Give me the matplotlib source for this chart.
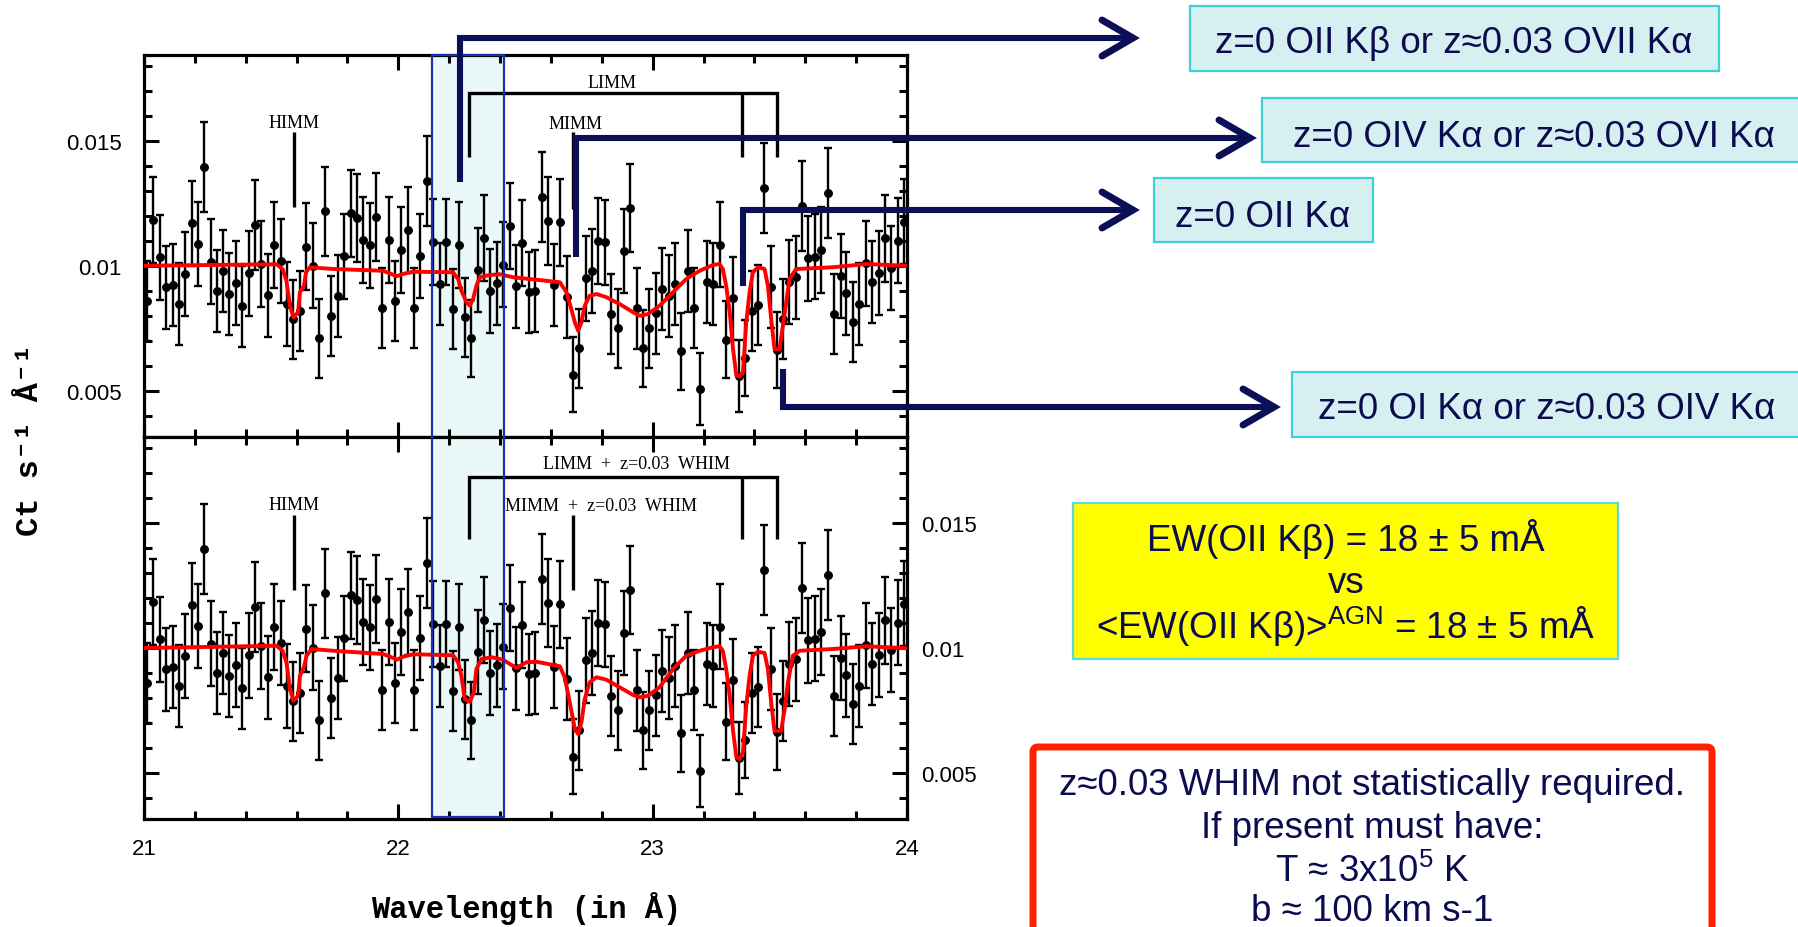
import matplotlib
matplotlib.use("Agg")
import matplotlib.pyplot as plt
from matplotlib.patches import Rectangle, FancyBboxPatch
from matplotlib.ticker import MultipleLocator, FuncFormatter

plt.rcParams["font.family"] = ["Liberation Sans", "DejaVu Sans"]
plt.rcParams["mathtext.fontset"] = "custom"
plt.rcParams["mathtext.rm"] = "Liberation Sans"

# ---------------- spectrum (same data in both panels) ----------------
wavelength = [
    21.010, 21.037, 21.063, 21.086, 21.113, 21.138, 21.162, 21.187, 21.212, 21.237,
    21.262, 21.287, 21.312, 21.335, 21.362, 21.386, 21.411, 21.436, 21.461, 21.486,
    21.512, 21.537, 21.561, 21.587, 21.613, 21.637, 21.663, 21.688, 21.713, 21.737,
    21.761, 21.787, 21.812, 21.837, 21.862, 21.887, 21.911, 21.936, 21.962, 21.987,
    22.012, 22.037, 22.062, 22.087, 22.112, 22.137, 22.162, 22.187, 22.213, 22.238,
    22.263, 22.287, 22.312, 22.337, 22.362, 22.387, 22.412, 22.438, 22.462, 22.488,
    22.513, 22.538, 22.563, 22.587, 22.612, 22.637, 22.662, 22.687, 22.712, 22.737,
    22.762, 22.787, 22.813, 22.838, 22.863, 22.888, 22.912, 22.937, 22.962, 22.987,
    23.012, 23.038, 23.063, 23.088, 23.113, 23.138, 23.162, 23.187, 23.212, 23.237,
    23.263, 23.289, 23.316, 23.339, 23.365, 23.390, 23.415, 23.437, 23.464, 23.487,
    23.512, 23.538, 23.563, 23.588, 23.612, 23.638, 23.663, 23.688, 23.713, 23.739,
    23.762, 23.787, 23.812, 23.837, 23.862, 23.888, 23.913, 23.938, 23.963, 23.988,
]
counts = [
    0.00861, 0.01184, 0.01035, 0.00915, 0.00925, 0.00848, 0.00968, 0.01171, 0.01088, 0.01396,
    0.01017, 0.00899, 0.00981, 0.00888, 0.00932, 0.00839, 0.00971, 0.01164, 0.01008, 0.00884,
    0.01084, 0.01021, 0.00848, 0.00788, 0.00821, 0.01077, 0.01001, 0.00711, 0.01219, 0.00800,
    0.00880, 0.01039, 0.01211, 0.01192, 0.01105, 0.01084, 0.01197, 0.00832, 0.01104, 0.00861,
    0.01065, 0.01145, 0.00832, 0.01041, 0.01341, 0.01097, 0.00928, 0.01095, 0.00828, 0.01084,
    0.00795, 0.00711, 0.00985, 0.01112, 0.00901, 0.00932, 0.01005, 0.01161, 0.00919, 0.01093,
    0.00895, 0.00901, 0.01277, 0.01181, 0.00925, 0.01175, 0.00877, 0.00565, 0.00671, 0.00951,
    0.00981, 0.01101, 0.01095, 0.00808, 0.00751, 0.01061, 0.01232, 0.00831, 0.00671, 0.00751,
    0.00811, 0.00908, 0.00881, 0.00928, 0.00659, 0.00981, 0.00832, 0.00508, 0.00937, 0.00927,
    0.01085, 0.00705, 0.00871, 0.00561, 0.00632, 0.00821, 0.00845, 0.01312, 0.00915, 0.00665,
    0.00788, 0.00937, 0.00955, 0.01241, 0.01031, 0.01037, 0.01065, 0.01292, 0.00808, 0.00961,
    0.00891, 0.00775, 0.00848, 0.01012, 0.00937, 0.00972, 0.01111, 0.00992, 0.01101, 0.01177,
]
count_err = [
    0.00160, 0.00173, 0.00170, 0.00167, 0.00165, 0.00165, 0.00167, 0.00169, 0.00169, 0.00181,
    0.00170, 0.00164, 0.00165, 0.00165, 0.00167, 0.00163, 0.00170, 0.00179, 0.00172, 0.00166,
    0.00173, 0.00167, 0.00168, 0.00158, 0.00160, 0.00174, 0.00170, 0.00157, 0.00177, 0.00160,
    0.00163, 0.00170, 0.00174, 0.00175, 0.00172, 0.00170, 0.00175, 0.00161, 0.00171, 0.00161,
    0.00171, 0.00171, 0.00160, 0.00169, 0.00181, 0.00173, 0.00164, 0.00172, 0.00160, 0.00171,
    0.00159, 0.00155, 0.00167, 0.00173, 0.00167, 0.00166, 0.00170, 0.00173, 0.00165, 0.00172,
    0.00163, 0.00164, 0.00180, 0.00176, 0.00165, 0.00175, 0.00163, 0.00150, 0.00157, 0.00170,
    0.00169, 0.00172, 0.00171, 0.00161, 0.00158, 0.00168, 0.00177, 0.00161, 0.00154, 0.00157,
    0.00161, 0.00163, 0.00165, 0.00164, 0.00155, 0.00165, 0.00160, 0.00145, 0.00165, 0.00164,
    0.00170, 0.00154, 0.00165, 0.00145, 0.00153, 0.00160, 0.00161, 0.00179, 0.00164, 0.00151,
    0.00160, 0.00167, 0.00167, 0.00179, 0.00171, 0.00170, 0.00173, 0.00179, 0.00159, 0.00168,
    0.00165, 0.00160, 0.00163, 0.00170, 0.00163, 0.00167, 0.00173, 0.00169, 0.00170, 0.00170,
]

# ---------------- best-fit models ----------------
model_wl_top = [
    21.000, 21.521, 21.545, 21.560, 21.574, 21.587, 21.606, 21.613, 21.629, 21.637,
    21.652, 21.744, 21.940, 21.973, 21.993, 22.019, 22.058, 22.215, 22.235, 22.248,
    22.268, 22.281, 22.294, 22.307, 22.320, 22.360, 22.399, 22.451, 22.635, 22.661,
    22.680, 22.694, 22.707, 22.720, 22.733, 22.752, 22.779, 22.818, 22.870, 22.923,
    22.949, 22.982, 23.027, 23.080, 23.132, 23.185, 23.237, 23.263, 23.276, 23.289,
    23.303, 23.316, 23.329, 23.342, 23.355, 23.368, 23.381, 23.394, 23.414, 23.440,
    23.453, 23.466, 23.479, 23.499, 23.512, 23.525, 23.538, 23.564, 23.708, 23.840,
    23.997,
]
model_top = [
    0.01001, 0.01007, 0.00988, 0.00941, 0.00841, 0.00795, 0.00815, 0.00895, 0.00921, 0.00975,
    0.00995, 0.00988, 0.00981, 0.00968, 0.00959, 0.00968, 0.00977, 0.00975, 0.00948, 0.00901,
    0.00855, 0.00841, 0.00868, 0.00921, 0.00955, 0.00964, 0.00967, 0.00955, 0.00935, 0.00895,
    0.00828, 0.00775, 0.00741, 0.00775, 0.00841, 0.00881, 0.00888, 0.00875, 0.00848, 0.00815,
    0.00801, 0.00808, 0.00841, 0.00895, 0.00948, 0.00981, 0.01004, 0.01008, 0.00988, 0.00921,
    0.00815, 0.00668, 0.00561, 0.00559, 0.00575, 0.00775, 0.00895, 0.00975, 0.00995, 0.00988,
    0.00921, 0.00788, 0.00668, 0.00668, 0.00761, 0.00855, 0.00948, 0.00988, 0.00995, 0.01008,
    0.01001,
]
model_wl_bot = [
    21.000, 21.521, 21.545, 21.560, 21.574, 21.587, 21.606, 21.613, 21.629, 21.639,
    21.659, 21.744, 21.940, 21.973, 21.993, 22.019, 22.058, 22.215, 22.235, 22.248,
    22.261, 22.281, 22.297, 22.307, 22.327, 22.366, 22.412, 22.464, 22.504, 22.543,
    22.635, 22.654, 22.674, 22.694, 22.707, 22.720, 22.733, 22.752, 22.779, 22.818,
    22.870, 22.923, 22.949, 22.982, 23.027, 23.080, 23.132, 23.185, 23.237, 23.263,
    23.276, 23.289, 23.303, 23.316, 23.329, 23.342, 23.355, 23.368, 23.381, 23.394,
    23.414, 23.440, 23.453, 23.466, 23.479, 23.505, 23.519, 23.532, 23.551, 23.578,
    23.708, 23.840, 23.997,
]
model_bot = [
    0.01000, 0.01009, 0.00989, 0.00943, 0.00836, 0.00789, 0.00809, 0.00889, 0.00923, 0.00969,
    0.00996, 0.00989, 0.00976, 0.00963, 0.00953, 0.00965, 0.00975, 0.00971, 0.00943, 0.00889,
    0.00796, 0.00785, 0.00823, 0.00916, 0.00956, 0.00963, 0.00953, 0.00920, 0.00943, 0.00945,
    0.00927, 0.00883, 0.00783, 0.00676, 0.00656, 0.00703, 0.00796, 0.00863, 0.00883, 0.00873,
    0.00843, 0.00812, 0.00803, 0.00809, 0.00843, 0.00916, 0.00969, 0.00989, 0.01003, 0.01007,
    0.00989, 0.00916, 0.00809, 0.00669, 0.00563, 0.00556, 0.00583, 0.00769, 0.00889, 0.00969,
    0.00985, 0.00980, 0.00916, 0.00783, 0.00669, 0.00669, 0.00756, 0.00863, 0.00969, 0.00989,
    0.00996, 0.01007, 0.00999,
]

# line identifications
himm_wl = 21.589
mimm_wl = 22.688
limm_wl = [22.277, 23.351, 23.490]
highlight = (22.133, 22.416)
arrow_wl = [22.242, 22.697, 23.354, 23.511]

# ---------------- figure ----------------
W, H = 1798, 928
fig = plt.figure(figsize=(W / 100, H / 100), dpi=100)


def px_rect(left, top, right, bottom):
    return [left / W, 1 - bottom / H, (right - left) / W, (bottom - top) / H]


ax_top = fig.add_axes(px_rect(144, 56, 907, 438))
ax_bot = fig.add_axes(px_rect(144, 438, 907, 820))

YLIM = (0.00316, 0.01844)
for ax, mwl, mval in ((ax_top, model_wl_top, model_top), (ax_bot, model_wl_bot, model_bot)):
    ax.axvspan(highlight[0], highlight[1], color="#EAF8F8", lw=0, zorder=0)
    ax.errorbar(wavelength, counts, yerr=count_err, fmt="o", color="black",
                ms=5.4, elinewidth=1.7, capsize=2.6, capthick=1.7, zorder=2)
    ax.plot(mwl, mval, color="#FF0000", lw=2.8, zorder=3)
    ax.set_xlim(21, 24)
    ax.set_ylim(*YLIM)
    ax.xaxis.set_major_locator(MultipleLocator(1))
    ax.xaxis.set_minor_locator(MultipleLocator(0.2))
    ax.yaxis.set_major_locator(MultipleLocator(0.005))
    ax.yaxis.set_minor_locator(MultipleLocator(0.001))
    ax.yaxis.set_major_formatter(FuncFormatter(lambda v, _: f"{v:g}"))
    ax.tick_params(which="both", direction="in", top=True, right=True,
                   width=2.2, color="black", labelsize=16)
    ax.tick_params(which="major", length=11)
    ax.tick_params(which="minor", length=5.5)
    for sp in ax.spines.values():
        sp.set_linewidth(2.3)

ax_top.tick_params(labelbottom=False, labelleft=True)
ax_top.tick_params(axis="y", pad=16)
ax_bot.tick_params(axis="y", labelleft=False, labelright=True, pad=10)
ax_bot.tick_params(axis="x", pad=14)

serif = dict(family=["Liberation Serif", "DejaVu Serif"], fontsize=13, color="black")
blk = dict(color="black", lw=2.4, solid_capstyle="butt", clip_on=False, zorder=4)

# top panel identifications
ax_top.plot([himm_wl, himm_wl], [0.01235, 0.01535], **blk)
ax_top.text(himm_wl, 0.01555, "HIMM", ha="center", va="baseline", **serif)
ax_top.plot([mimm_wl, mimm_wl], [0.01228, 0.01536], **blk)
ax_top.text(22.696, 0.01552, "MIMM", ha="center", va="baseline", **serif)
ax_top.plot([limm_wl[0], limm_wl[0], limm_wl[2], limm_wl[2]],
            [0.01436, 0.01692, 0.01692, 0.01436], solid_joinstyle="miter", **blk)
ax_top.plot([limm_wl[1], limm_wl[1]], [0.01692, 0.01436], **blk)
ax_top.text(22.839, 0.01715, "LIMM", ha="center", va="baseline", **serif)

# bottom panel identifications
ax_bot.plot([himm_wl, himm_wl], [0.01232, 0.01532], **blk)
ax_bot.text(himm_wl, 0.01556, "HIMM", ha="center", va="baseline", **serif)
ax_bot.plot([mimm_wl, mimm_wl], [0.01232, 0.01532], **blk)
ax_bot.text(22.796, 0.01553, "MIMM  +  z=0.03  WHIM", ha="center", va="baseline", **serif)
ax_bot.plot([limm_wl[0], limm_wl[0], limm_wl[2], limm_wl[2]],
            [0.01436, 0.01685, 0.01685, 0.01436], solid_joinstyle="miter", **blk)
ax_bot.plot([limm_wl[1], limm_wl[1]], [0.01685, 0.01436], **blk)
ax_bot.text(22.937, 0.01719, "LIMM  +  z=0.03  WHIM", ha="center", va="baseline", **serif)

# ---------------- overlay in pixel coordinates ----------------
ov = fig.add_axes([0, 0, 1, 1], zorder=10)
ov.set_xlim(0, W)
ov.set_ylim(H, 0)
ov.axis("off")
ov.patch.set_alpha(0)


def wl_to_px(wl):
    return ax_top.transData.transform((wl, 0.01))[0]


mono = dict(family=["Liberation Mono", "DejaVu Sans Mono"], fontweight="bold", color="black")
ov.text(526, 909, "Wavelength (in Å)", ha="center", va="center", fontsize=22, **mono)
ov.text(30, 440, "Ct s⁻¹ Å⁻¹", ha="center", va="center", rotation=90, fontsize=23, **mono)

# highlighted wavelength range (outline spans both panels)
hx0, hx1 = wl_to_px(highlight[0]), wl_to_px(highlight[1])
ov.add_patch(Rectangle((hx0, 56), hx1 - hx0, 762, fill=False, ec="#1A30B8", lw=1.6, zorder=1))

navy = "#0B0F55"
arrows = [  # (wavelength of feature, start y, horizontal y, tip x)
    (arrow_wl[0], 183, 39, 1133),
    (arrow_wl[1], 258, 139, 1250),
    (arrow_wl[2], 287, 211, 1133),
    (arrow_wl[3], 370, 408, 1274),
]
for wl, y0, yh, tip in arrows:
    x = wl_to_px(wl)
    ov.plot([x, x, tip - 4], [y0, yh, yh], color=navy, lw=4.4,
            solid_joinstyle="miter", solid_capstyle="butt", zorder=3)
    ov.plot([tip - 31, tip, tip - 31], [yh - 18, yh, yh + 18], color=navy, lw=5.0,
            solid_joinstyle="miter", solid_capstyle="round", zorder=3)

txt_color = "#0B0B4F"
box_font = dict(fontsize=26.5, color=txt_color, ha="center", va="baseline")
label_boxes = [
    (1190, 7, 1719, 72, "z=0 OII Kβ or z≈0.03 OVII Kα", 1454, 53.3),
    (1262, 99, 1830, 163, "z=0 OIV Kα or z≈0.03 OVI Kα", 1534, 146.7),
    (1154, 179, 1373, 243, "z=0 OII Kα", 1263, 226.7),
    (1292, 373, 1830, 438, "z=0 OI Kα or z≈0.03 OIV Kα", 1547, 419.3),
]
for l, t, r, b, s, cx, base in label_boxes:
    ov.add_patch(Rectangle((l, t), r - l, b - t, fc="#D6EFF1", ec="#3ED2D8", lw=1.6, zorder=2))
    ov.text(cx, base, s, zorder=4, **box_font)

# equivalent-width comparison
ov.add_patch(Rectangle((1073, 504), 545, 156, fc="#FFFF00", ec="#62D6E0", lw=1.6, zorder=2))
for s, base in [("EW(OII Kβ) = 18 ± 5 mÅ", 550.7),
                ("vs", 593.3),
                ("<EW(OII Kβ)>$^{\\mathrm{AGN}}$ = 18 ± 5 mÅ", 639.3)]:
    ov.text(1346, base, s, zorder=4, **box_font)

# WHIM note
ov.add_patch(FancyBboxPatch((1033, 748), 679, 260, boxstyle="round,pad=0,rounding_size=5",
                            fc="white", ec="#FF2200", lw=5.0, zorder=2))
for s, base in [("z≈0.03 WHIM not statistically required.", 795),
                ("If present must have:", 838.3),
                ("T ≈ 3x10$^5$ K", 881.7),
                ("b ≈ 100 km s-1", 921.5)]:
    ov.text(1372, base, s, zorder=4, **box_font)

fig.savefig("out.png", dpi=100)
